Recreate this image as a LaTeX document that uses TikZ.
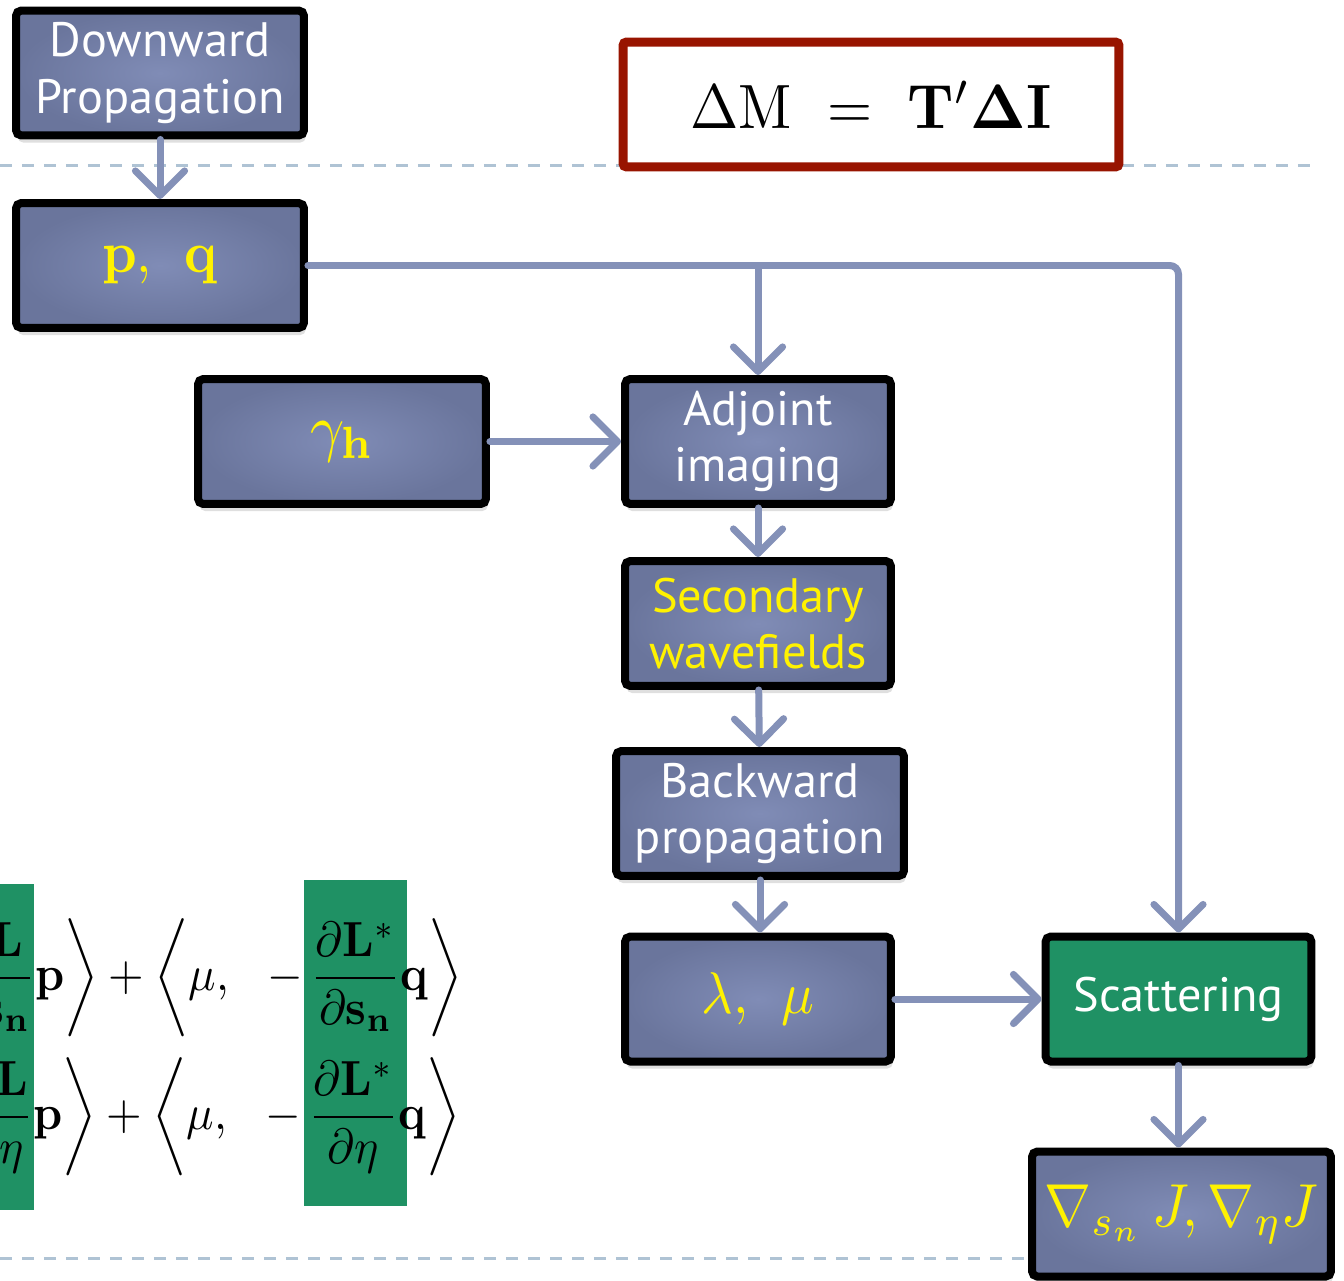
\documentclass[tikz,border=0pt]{standalone}
\usepackage{amsmath,amssymb}
\usepackage{graphicx}
\usepackage[no-math]{fontspec}
\newfontfamily\boxfont{PT Sans}
\usepackage{xcolor}
\usepackage{tikz}
\usetikzlibrary{arrows.meta,positioning,calc,shadows}
\definecolor{boxlight}{RGB}{128,140,182}
\definecolor{boxdark}{RGB}{106,117,156}
\definecolor{scatgreen}{RGB}{31,145,100}
\definecolor{eqred}{RGB}{152,20,0}
\definecolor{flow}{RGB}{132,145,184}
\definecolor{rulec}{RGB}{175,195,212}
% math scaled up, a little taller than wide
\newcommand{\bigmath}[2][3.0]{\pgfmathsetmacro{\vsc}{1.08*#1}%
  \scalebox{#1}[\vsc]{\normalsize$#2$}}

\begin{document}
\begin{tikzpicture}[x=0.02cm, y=-0.02cm,
    blk/.style={draw=black, line width=0.16cm, rounded corners=3pt,
                inner color=boxlight, outer color=boxdark,
                minimum width=5.76cm, minimum height=2.5cm, align=center,
                text=white, font=\boxfont\fontsize{27.5}{32}\selectfont,
                drop shadow={shadow xshift=1pt, shadow yshift=-4pt, opacity=0.25}},
    slim/.style={minimum width=5.32cm},
    sym/.style={text=yellow},
    arr/.style={-{Straight Barb[length=14pt, width=28pt, round]},
                line width=0.14cm, draw=flow, line cap=round},
    sep/.style={draw=rulec, line width=0.06cm, dash pattern=on 0.24cm off 0.2cm},
  ]
  \useasboundingbox (0,0) rectangle (1344,1280);
  % separators
  \draw[sep] (0,166) -- (1310,166);
  \draw[sep] (0,1258) -- (1030,1258);

  % Update rule
  \node[draw=eqred, line width=0.18cm, rounded corners=2pt, minimum width=9.92cm,
        minimum height=2.5cm]
    (upd) at (871,104.5) {\bigmath[3.3]{\Delta\mathrm{M}\ =\ \mathbf{T'\Delta I}}};

  % Flow boxes
  \node[blk] (down) at (160,73) {Downward\\Propagation};
  \node[blk, sym] (pq) at (160,265.5) {\bigmath[3.1]{\mathbf{p},\ \,\mathbf{q}}};
  \node[blk, sym] (gam) at (342,441.5) {\bigmath[3.4]{\gamma_{\mathbf{h}}}};
  \node[blk, slim] (adj) at (758,441.5) {Adjoint\\imaging};
  \node[blk, slim, text=yellow] (sec) at (758,623.5) {Secondary\\wavefields};
  \node[blk] (back) at (760,813.5) {Backward\\propagation};
  \node[blk, slim, sym] (lm) at (758,999) {\bigmath[3.1]{\lambda,\ \,\mu}};
  \node[blk, slim, inner color=scatgreen, outer color=scatgreen]
    (scat) at (1178.5,999) {Scattering};
  \node[blk, sym, minimum width=5.98cm] (grad) at (1181.5,1214)
    {\bigmath[3.2]{\nabla_{s_n}\,J,\nabla_{\eta}J}};

  % Arrows
  \draw[arr] (down) -- (pq);
  \draw[arr, rounded corners=5pt] (pq.east) -| (scat.north);
  \draw[arr] (adj.north |- pq.east) -- (adj.north);
  \draw[arr] (gam) -- (adj);
  \draw[arr] (adj) -- (sec);
  \draw[arr] (sec) -- (back);
  \draw[arr] (back.south) -- (back.south |- lm.north);
  \draw[arr] (lm) -- (scat);
  \draw[arr] (scat.south) -- (scat.south |- grad.north);

  % Gradient terms
  \fill[scatgreen] (-10,884) rectangle (34,1210);
  \fill[scatgreen] (304,880) rectangle (407,1206);
  \node[anchor=east, inner sep=0pt] (rowS) at (463,978)
    {\bigmath[2.6]{\left.\dfrac{\partial\mathbf{L}}{\partial\mathbf{s_n}}\mathbf{p}\right\rangle
      + \left\langle\mu,\ \ -\,\dfrac{\partial\mathbf{L}^*}{\partial\mathbf{s_n}}\mathbf{q}\right\rangle}};
  \node[anchor=east, inner sep=0pt] (rowE) at (461,1117)
    {\bigmath[2.6]{\left.\dfrac{\partial\mathbf{L}}{\partial\eta}\mathbf{p}\right\rangle
      + \left\langle\mu,\ \ -\,\dfrac{\partial\mathbf{L}^*}{\partial\eta}\mathbf{q}\right\rangle}};
\end{tikzpicture}
\end{document}
